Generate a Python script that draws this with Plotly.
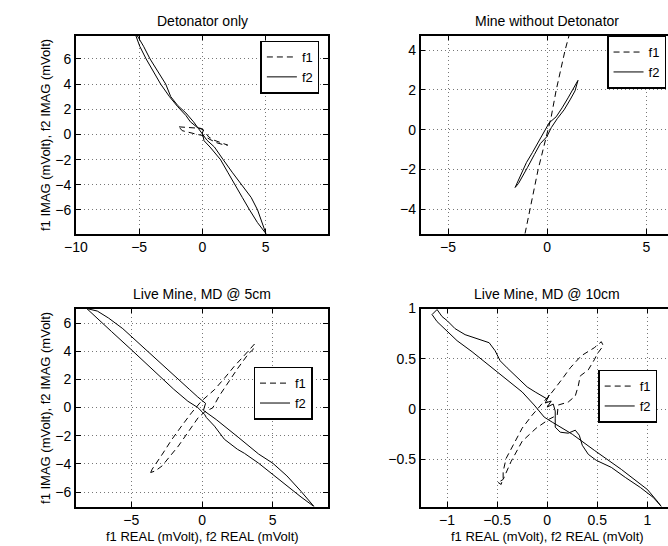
import plotly.graph_objects as go

# ---- Detonator only ----
det_f1_re = [-1.85, -1.3, -0.7, -0.1, 0.2, 0.5, 0.9, 1.4, 2.0, 1.6, 1.1, 0.6, 0.1, -0.4, -1.0, -1.6, -1.85]
det_f1_im = [0.6, 0.55, 0.5, 0.48, 0.2, -0.2, -0.45, -0.65, -0.85, -0.8, -0.65, -0.4, -0.1, 0.0, 0.15, 0.3, 0.6]
det_f2_re = [-5.26, -4.95, -4.45, -3.9, -3.3, -2.6, -1.95, -1.3, -0.95, -0.4, 0.08, 0.0, 0.13, 0.6, 1.43, 2.0,
             2.55, 3.15, 3.73, 4.35, 5.02, 4.65, 4.36, 3.85, 3.07, 2.35, 1.64, 0.95, 0.35, 0.05, -0.3, -0.7,
             -1.3, -1.95, -2.5, -2.9, -3.5, -4.14, -4.65, -5.15, -5.26]
det_f2_im = [7.85, 7.0, 6.0, 5.0, 4.0, 3.0, 2.2, 1.5, 1.0, 0.55, 0.37, 0.1, -0.5, -1.0, -2.0, -3.0,
             -4.0, -5.0, -6.0, -7.0, -7.88, -6.9, -6.0, -5.0, -4.0, -3.0, -2.0, -1.0, -0.45, 0.0, 0.45, 1.0,
             1.7, 2.3, 3.0, 4.0, 5.0, 6.0, 7.0, 7.85, 7.85]

# ---- Mine without Detonator ----
mine_f1_re = [-1.12, -1.0, -0.87, -0.75, -0.63, -0.46, -0.21, -0.02, 0.2, 0.45, 0.69, 0.9, 1.1]
mine_f1_im = [-5.22, -4.6, -3.97, -3.4, -2.82, -2.0, -1.0, -0.2, 0.65, 1.98, 3.15, 4.0, 4.73]
mine_f2_re = [1.55, 1.3, 1.05, 0.75, 0.45, 0.1, -0.2, -0.45, -0.75, -1.05, -1.3, -1.5, -1.62, -1.45,
              -1.3, -1.0, -0.65, -0.35, -0.02, 0.2, 0.5, 0.85, 1.15, 1.4, 1.55]
mine_f2_im = [2.48, 2.0, 1.6, 1.1, 0.65, 0.35, -0.2, -0.6, -1.15, -1.65, -2.2, -2.6, -2.9, -2.7,
              -2.45, -1.9, -1.25, -0.7, -0.35, 0.1, 0.55, 1.0, 1.5, 1.95, 2.48]

# ---- Live Mine, MD @ 5cm ----
md5_f1_re = [-3.63, -3.52, -2.8, -2.13, -1.4, -0.74, -0.05, 0.88, 1.6, 2.27, 2.9, 3.54, 3.7, 3.6, 3.31,
             2.5, 1.81, 1.2, 0.76, 0.2, -0.28, -1.0, -1.67, -2.3, -2.82, -3.3, -3.63]
md5_f1_im = [-4.61, -4.37, -3.3, -2.26, -1.25, -0.37, 0.45, 1.27, 2.1, 2.92, 3.6, 4.33, 4.5, 4.1, 3.86,
             2.75, 1.74, 0.8, -0.02, -0.3, -0.73, -1.75, -2.73, -3.5, -4.14, -4.5, -4.61]
md5_f2_re = [-0.3, -1.0, -2.0, -3.0, -4.0, -5.0, -6.4, -7.8, -8.15, -7.4, -6.6, -5.6, -4.6, -3.6, -2.6,
             -1.6, -0.9, -0.3, 0.05, 0.25, 0.1, 0.19, 1.0, 2.55, 4.0, 5.0, 6.0, 7.0, 7.92, 7.0, 6.0,
             5.0, 4.0, 3.0, 2.5, 1.58, 0.88, 0.3, 0.19, 0.0, -0.3]
md5_f2_im = [0.0, 0.45, 1.3, 2.25, 3.2, 4.11, 5.4, 6.68, 7.03, 6.85, 6.35, 5.6, 4.7, 3.75, 2.9,
             1.95, 1.3, 0.75, 0.45, 0.3, -0.2, -0.26, -0.85, -2.1, -3.3, -3.95, -4.85, -5.95, -7.03, -6.35, -5.55,
             -4.75, -3.95, -3.25, -2.96, -2.25, -1.32, -0.7, -0.5, -0.3, 0.0]

# ---- Live Mine, MD @ 10cm ----
md10_f1_re = [-0.49, -0.46, -0.44, -0.44, -0.41, -0.34, -0.25, -0.15, -0.08, 0.05, 0.15, 0.23, 0.34, 0.47,
              0.54, 0.56, 0.5, 0.47, 0.41, 0.33, 0.31, 0.28, 0.21, 0.11, 0.1, 0.02, -0.11, -0.25, -0.36,
              -0.44, -0.49]
md10_f1_im = [-0.73, -0.75, -0.68, -0.62, -0.49, -0.36, -0.19, -0.06, 0.02, 0.17, 0.3, 0.41, 0.53, 0.61,
              0.67, 0.63, 0.55, 0.49, 0.39, 0.33, 0.23, 0.13, 0.07, 0.04, -0.06, -0.1, -0.19, -0.32, -0.52,
              -0.7, -0.73]
md10_f2_re = [-1.1, -1.05, -1.0, -0.92, -0.82, -0.7, -0.58, -0.52, -0.47, -0.4, -0.3, -0.2, -0.12, -0.05,
              0.0, 0.02, -0.02, 0.04, 0.0, 0.06, 0.08, 0.08, 0.08, 0.13, 0.21, 0.28, 0.32, 0.35, 0.41,
              0.49, 0.64, 0.78, 0.93, 1.06, 1.14, 1.11, 1.0, 0.74, 0.47, 0.25, 0.05, -0.03, -0.13,
              -0.25, -0.5, -0.75, -0.9, -1.0, -1.1, -1.15, -1.1]
md10_f2_im = [0.99, 0.92, 0.88, 0.8, 0.74, 0.7, 0.66, 0.58, 0.48, 0.41, 0.31, 0.22, 0.17, 0.13,
              0.1, 0.14, 0.06, 0.08, 0.02, 0.05, -0.02, -0.09, -0.18, -0.23, -0.24, -0.21, -0.26, -0.36, -0.45,
              -0.51, -0.58, -0.68, -0.78, -0.88, -0.97, -0.93, -0.8, -0.6, -0.41, -0.25, -0.13, -0.08, 0.04,
              0.17, 0.37, 0.57, 0.68, 0.77, 0.87, 0.94, 0.99]

# axis ranges and ticks
panel_titles = ["Detonator only", "Mine without Detonator", "Live Mine, MD @ 5cm", "Live Mine, MD @ 10cm"]
x_ranges = [[-10, 9.94], [-6.39, 6.09], [-8.92, 8.92], [-1.265, 1.206]]
y_ranges = [[-7.88, 7.85], [-5.22, 4.73], [-7.03, 7.03], [-0.97, 1.0]]
x_ticks = [[-10, -5, 0, 5], [-5, 0, 5], [-5, 0, 5], [-1, -0.5, 0, 0.5, 1]]
y_ticks = [[-6, -4, -2, 0, 2, 4, 6], [-4, -2, 0, 2, 4], [-6, -4, -2, 0, 2, 4, 6], [-0.5, 0, 0.5, 1]]

W, H = 668, 546
# axes boxes in pixels: left, right, top, bottom
boxes = [(65, 322, 28, 229), (416, 668, 28, 229), (65, 322, 305, 506), (416, 668, 305, 506)]
# legend right edge / top edge in pixels
legend_pos = [(313, 33), (666, 28), (306, 364), (657, 367)]

data = [(det_f1_re, det_f1_im, det_f2_re, det_f2_im),
        (mine_f1_re, mine_f1_im, mine_f2_re, mine_f2_im),
        (md5_f1_re, md5_f1_im, md5_f2_re, md5_f2_im),
        (md10_f1_re, md10_f1_im, md10_f2_re, md10_f2_im)]

family = "Liberation Sans, Arial, sans-serif"
font = dict(family=family, size=14, color="black")
label_font = dict(family=family, size=13, color="black")
fig = go.Figure()
layout = dict(width=W, height=H, margin=dict(l=0, r=0, t=0, b=0),
              paper_bgcolor="white", plot_bgcolor="white", font=font, annotations=[])

for i in range(4):
    n = "" if i == 0 else str(i + 1)
    lg = "legend" + n
    f1x, f1y, f2x, f2y = data[i]
    fig.add_trace(go.Scatter(x=f1x, y=f1y, mode="lines", name="f1", legend=lg,
                             line=dict(color="black", width=1, dash="6px,4px"),
                             xaxis="x" + n, yaxis="y" + n))
    fig.add_trace(go.Scatter(x=f2x, y=f2y, mode="lines", name="f2", legend=lg,
                             line=dict(color="black", width=1),
                             xaxis="x" + n, yaxis="y" + n))
    l, r, t, b = boxes[i]
    right_side = i in (1, 3)
    common = dict(showline=True, linecolor="black", linewidth=1.5, ticks="inside", ticklen=5,
                  tickcolor="black", showgrid=True, gridcolor="#777777", griddash="1px,3px",
                  gridwidth=1, zeroline=False, tickfont=font)
    layout["xaxis" + n] = dict(common, domain=[l / W, r / W], range=x_ranges[i], tickvals=x_ticks[i],
                               anchor="y" + n, mirror="ticks")
    layout["yaxis" + n] = dict(common, domain=[1 - b / H, 1 - t / H], range=y_ranges[i], tickvals=y_ticks[i],
                               anchor="x" + n, mirror=False if right_side else "ticks")
    lx, ly = legend_pos[i]
    layout[lg] = dict(x=lx / W, y=1 - ly / H, xanchor="right", yanchor="top", bgcolor="white",
                      bordercolor="black", borderwidth=1.5, font=label_font, tracegroupgap=0)
    cx = (l + (r if not right_side else 674)) / 2
    layout["annotations"].append(dict(text=panel_titles[i], x=cx / W, y=1 - (t - 15) / H, xref="paper",
                                      yref="paper", showarrow=False, xanchor="center", yanchor="middle",
                                      font=font))
    if i >= 2:
        layout["annotations"].append(dict(text="f1 REAL (mVolt), f2 REAL (mVolt)", x=cx / W, y=1 - 536 / H,
                                          xref="paper", yref="paper", showarrow=False, xanchor="center",
                                          yanchor="middle", font=label_font))
    if not right_side:
        layout["annotations"].append(dict(text="f1 IMAG (mVolt), f2 IMAG (mVolt)", x=34 / W,
                                          y=1 - (t + b) / 2 / H, xref="paper", yref="paper", showarrow=False,
                                          textangle=-90, xanchor="center", yanchor="middle", font=label_font))

fig.update_layout(layout)
fig.write_html("out.html", config={"displayModeBar": False},
               post_script="document.body.style.margin='0';document.body.style.overflow='hidden';")
